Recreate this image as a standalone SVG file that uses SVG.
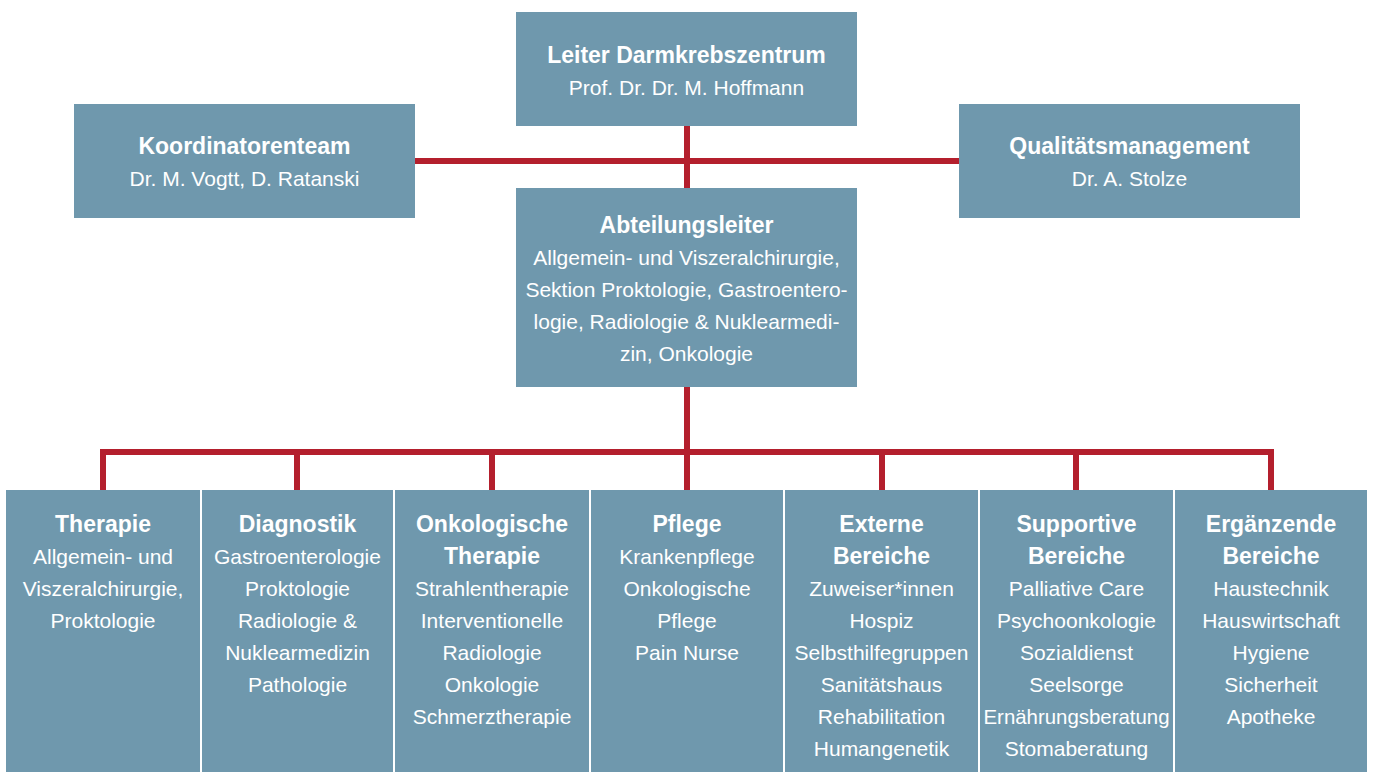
<svg xmlns="http://www.w3.org/2000/svg" width="1373" height="772" viewBox="0 0 1373 772">
<style>
.box{fill:#6f98ad}
.t{font-family:"Liberation Sans",Arial,sans-serif;fill:#fff;text-anchor:middle;font-size:21px}
.b{font-weight:bold;font-size:23px}
.c{fill:none;stroke:#b41f2d;stroke-width:6;stroke-linejoin:miter;stroke-linecap:butt}
</style>
<rect width="1373" height="772" fill="#fff"/>
<g id="connectors">
<path class="c" d="M687,126V188"/>
<path class="c" d="M415,161H959"/>
<path class="c" d="M687,387V452"/>
<path class="c" d="M103,490V452H1271V490"/>
<path class="c" d="M297,452V490M492,452V490M687,452V490M882,452V490M1076,452V490"/>
</g>
<g id="leiter">
<rect class="box" x="516" y="12" width="341" height="114"/>
<text class="t b" x="686.5" y="63">Leiter Darmkrebszentrum</text>
<text class="t" x="686.5" y="95">Prof. Dr. Dr. M. Hoffmann</text>
</g>
<g id="koordinatorenteam">
<rect class="box" x="74" y="104" width="341" height="114"/>
<text class="t b" x="244.5" y="154">Koordinatorenteam</text>
<text class="t" x="244.5" y="186">Dr. M. Vogtt, D. Ratanski</text>
</g>
<g id="qualitaetsmanagement">
<rect class="box" x="959" y="104" width="341" height="114"/>
<text class="t b" x="1129.5" y="154">Qualitätsmanagement</text>
<text class="t" x="1129.5" y="186">Dr. A. Stolze</text>
</g>
<g id="abteilungsleiter">
<rect class="box" x="516" y="188" width="341" height="199"/>
<text class="t b" x="686.5" y="233">Abteilungsleiter</text>
<text class="t" x="686.5" y="265">Allgemein- und Viszeralchirurgie,</text>
<text class="t" x="686.5" y="297">Sektion Proktologie, Gastroentero-</text>
<text class="t" x="686.5" y="329">logie, Radiologie &amp; Nuklearmedi-</text>
<text class="t" x="686.5" y="361">zin, Onkologie</text>
</g>
<g id="therapie">
<rect class="box" x="6" y="490" width="194" height="282"/>
<text class="t b" x="103" y="532">Therapie</text>
<text class="t" x="103" y="564">Allgemein- und</text>
<text class="t" x="103" y="596">Viszeralchirurgie,</text>
<text class="t" x="103" y="628">Proktologie</text>
</g>
<g id="diagnostik">
<rect class="box" x="202" y="490" width="191" height="282"/>
<text class="t b" x="297.5" y="532">Diagnostik</text>
<text class="t" x="297.5" y="564">Gastroenterologie</text>
<text class="t" x="297.5" y="596">Proktologie</text>
<text class="t" x="297.5" y="628">Radiologie &amp;</text>
<text class="t" x="297.5" y="660">Nuklearmedizin</text>
<text class="t" x="297.5" y="692">Pathologie</text>
</g>
<g id="onkologische-therapie">
<rect class="box" x="395" y="490" width="194" height="282"/>
<text class="t b" x="492" y="532">Onkologische</text>
<text class="t b" x="492" y="564">Therapie</text>
<text class="t" x="492" y="596">Strahlentherapie</text>
<text class="t" x="492" y="628">Interventionelle</text>
<text class="t" x="492" y="660">Radiologie</text>
<text class="t" x="492" y="692">Onkologie</text>
<text class="t" x="492" y="724">Schmerztherapie</text>
</g>
<g id="pflege">
<rect class="box" x="591" y="490" width="192" height="282"/>
<text class="t b" x="687" y="532">Pflege</text>
<text class="t" x="687" y="564">Krankenpflege</text>
<text class="t" x="687" y="596">Onkologische</text>
<text class="t" x="687" y="628">Pflege</text>
<text class="t" x="687" y="660">Pain Nurse</text>
</g>
<g id="externe-bereiche">
<rect class="box" x="785" y="490" width="193" height="282"/>
<text class="t b" x="881.5" y="532">Externe</text>
<text class="t b" x="881.5" y="564">Bereiche</text>
<text class="t" x="881.5" y="596">Zuweiser*innen</text>
<text class="t" x="881.5" y="628">Hospiz</text>
<text class="t" x="881.5" y="660">Selbsthilfegruppen</text>
<text class="t" x="881.5" y="692">Sanitätshaus</text>
<text class="t" x="881.5" y="724">Rehabilitation</text>
<text class="t" x="881.5" y="756">Humangenetik</text>
</g>
<g id="supportive-bereiche">
<rect class="box" x="980" y="490" width="193" height="282"/>
<text class="t b" x="1076.5" y="532">Supportive</text>
<text class="t b" x="1076.5" y="564">Bereiche</text>
<text class="t" x="1076.5" y="596">Palliative Care</text>
<text class="t" x="1076.5" y="628">Psychoonkologie</text>
<text class="t" x="1076.5" y="660">Sozialdienst</text>
<text class="t" x="1076.5" y="692">Seelsorge</text>
<text class="t" x="1076.5" y="724" textLength="186" lengthAdjust="spacingAndGlyphs">Ernährungsberatung</text>
<text class="t" x="1076.5" y="756">Stomaberatung</text>
</g>
<g id="ergaenzende-bereiche">
<rect class="box" x="1175" y="490" width="192" height="282"/>
<text class="t b" x="1271" y="532">Ergänzende</text>
<text class="t b" x="1271" y="564">Bereiche</text>
<text class="t" x="1271" y="596">Haustechnik</text>
<text class="t" x="1271" y="628">Hauswirtschaft</text>
<text class="t" x="1271" y="660">Hygiene</text>
<text class="t" x="1271" y="692">Sicherheit</text>
<text class="t" x="1271" y="724">Apotheke</text>
</g>
</svg>
